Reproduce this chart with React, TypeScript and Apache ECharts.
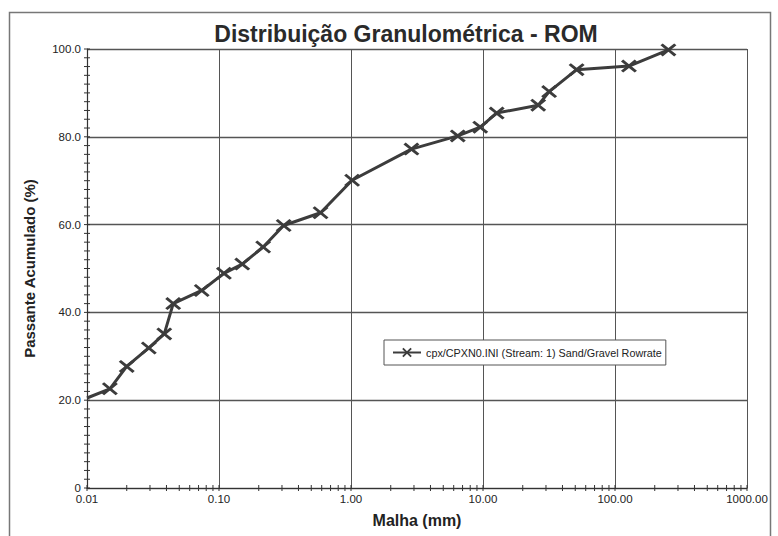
import React, { useEffect, useRef } from "react";
import * as echarts from "echarts";

const title = "Distribuição Granulométrica - ROM";
const seriesName = "cpx/CPXN0.INI (Stream: 1) Sand/Gravel Rowrate";
const xName = "Malha (mm)";
const yName = "Passante Acumulado (%)";

// Mesh size (mm) and cumulative passing (%)
const meshSizes = [0.01, 0.0149, 0.02, 0.0294, 0.0385, 0.045, 0.074, 0.109, 0.15, 0.216, 0.309, 0.588, 1.02, 2.87, 6.44, 9.53, 12.7, 26.2, 31.7, 51.2, 127.6, 254];
const passing = [20.5, 22.6, 27.7, 31.9, 35.1, 42.0, 45.0, 48.9, 51.0, 54.9, 59.8, 62.7, 70.1, 77.2, 80.2, 82.2, 85.4, 87.2, 90.3, 95.3, 96.1, 99.8];

const xMin = 0.01;
const xMax = 1000;
const yMin = 0;
const yMax = 100;
const yInterval = 20;
const yMinorStep = 2;
const xDecades = [0.01, 0.1, 1, 10, 100, 1000];
const xMinorMultipliers = [2, 3, 4, 5, 6, 7, 8, 9];

const FONT = "'Liberation Sans', Arial, sans-serif";
const INK = "#333";
const X_PATH = "path://M0,1.4 L1.4,0 L5,3.6 L8.6,0 L10,1.4 L6.4,5 L10,8.6 L8.6,10 L5,6.4 L1.4,10 L0,8.6 L3.6,5 Z";

export default function App() {
  const ref = useRef<HTMLDivElement>(null);

  useEffect(() => {
    if (!ref.current) return;
    const chart = echarts.init(ref.current, undefined, { renderer: "svg" });

    const yTicks: number[] = [];
    for (let v = yMin; v <= yMax + 1e-9; v += yMinorStep) yTicks.push(+v.toFixed(4));
    const xTicks: number[] = [];
    xDecades.forEach((d, i) => {
      xTicks.push(d);
      if (i < xDecades.length - 1) xMinorMultipliers.forEach((m) => xTicks.push(+(d * m).toPrecision(6)));
    });

    const tickData: Array<[number, number, number]> = [];
    yTicks.forEach((v) => tickData.push([xMin, v, 0]));
    xTicks.forEach((v) => tickData.push([v, yMin, 1]));

    const data = meshSizes.map((x, i) =>
      i === 0 ? { value: [x, passing[i]], symbol: "none" } : { value: [x, passing[i]] }
    );

    chart.setOption({
      animation: false,
      backgroundColor: "#ffffff",
      title: {
        text: title,
        left: 401,
        textAlign: "center",
        top: 17,
        textStyle: { fontFamily: FONT, fontSize: 23, fontWeight: "bold", color: "#2a2a2a" },
      },
      legend: {
        left: 384,
        top: 340,
        orient: "horizontal",
        backgroundColor: "#ffffff",
        borderColor: "#555",
        borderWidth: 1,
        padding: [7, 4, 7, 8],
        itemWidth: 28,
        itemHeight: 12,
        textStyle: { fontFamily: FONT, fontSize: 10.8, color: "#222" },
        data: [seriesName],
      },
      grid: { left: 87, right: 31, top: 49, bottom: 48, containLabel: false },
      xAxis: {
        type: "log",
        logBase: 10,
        min: xMin,
        max: xMax,
        name: xName,
        nameLocation: "middle",
        nameGap: 24,
        nameTextStyle: { fontFamily: FONT, fontSize: 16, fontWeight: "bold", color: "#222" },
        axisLine: { show: true, lineStyle: { color: INK, width: 1.2 } },
        axisTick: { show: false },
        axisLabel: {
          fontFamily: FONT,
          fontSize: 11.5,
          color: "#222",
          margin: 5,
          formatter: (v: number) => v.toFixed(2),
        },
        splitLine: { show: true, lineStyle: { color: "#555", width: 1 } },
      },
      yAxis: {
        type: "value",
        min: yMin,
        max: yMax,
        interval: yInterval,
        name: yName,
        nameLocation: "middle",
        nameGap: 50,
        nameTextStyle: { fontFamily: FONT, fontSize: 15, fontWeight: "bold", color: "#222" },
        axisLine: { show: true, lineStyle: { color: INK, width: 1.2 } },
        axisTick: { show: false },
        axisLabel: {
          fontFamily: FONT,
          fontSize: 11.5,
          color: "#222",
          margin: 6,
          formatter: (v: number) => (v === 0 ? "0" : v.toFixed(1)),
        },
        splitLine: { show: true, lineStyle: { color: "#555", width: 1.3 } },
      },
      series: [
        {
          type: "custom",
          silent: true,
          clip: false,
          z: 5,
          renderItem: (_params: any, api: any) => {
            const p = api.coord([api.value(0), api.value(1)]);
            const horiz = api.value(2) === 0;
            const len = 3;
            return {
              type: "line",
              shape: horiz
                ? { x1: p[0] - len, y1: p[1], x2: p[0] + len, y2: p[1] }
                : { x1: p[0], y1: p[1] - len, x2: p[0], y2: p[1] + len },
              style: { stroke: INK, lineWidth: 1 },
            };
          },
          data: tickData,
          encode: { x: 0, y: 1 },
        },
        {
          name: seriesName,
          type: "line",
          data,
          z: 10,
          symbol: X_PATH,
          symbolSize: [16, 13],
          showAllSymbol: true,
          lineStyle: { color: "#3c3c3c", width: 3 },
          itemStyle: { color: "#3c3c3c" },
        },
      ],
      graphic: [
        {
          type: "rect",
          shape: { x: 9.5, y: 12.5, width: 761, height: 540 },
          style: { fill: "none", stroke: "#777", lineWidth: 1.5 },
          silent: true,
        },
      ],
    });

    return () => chart.dispose();
  }, []);

  return (
    <div
      ref={ref}
      style={{ position: "absolute", left: 0, top: 0, width: 778, height: 536 }}
    />
  );
}
